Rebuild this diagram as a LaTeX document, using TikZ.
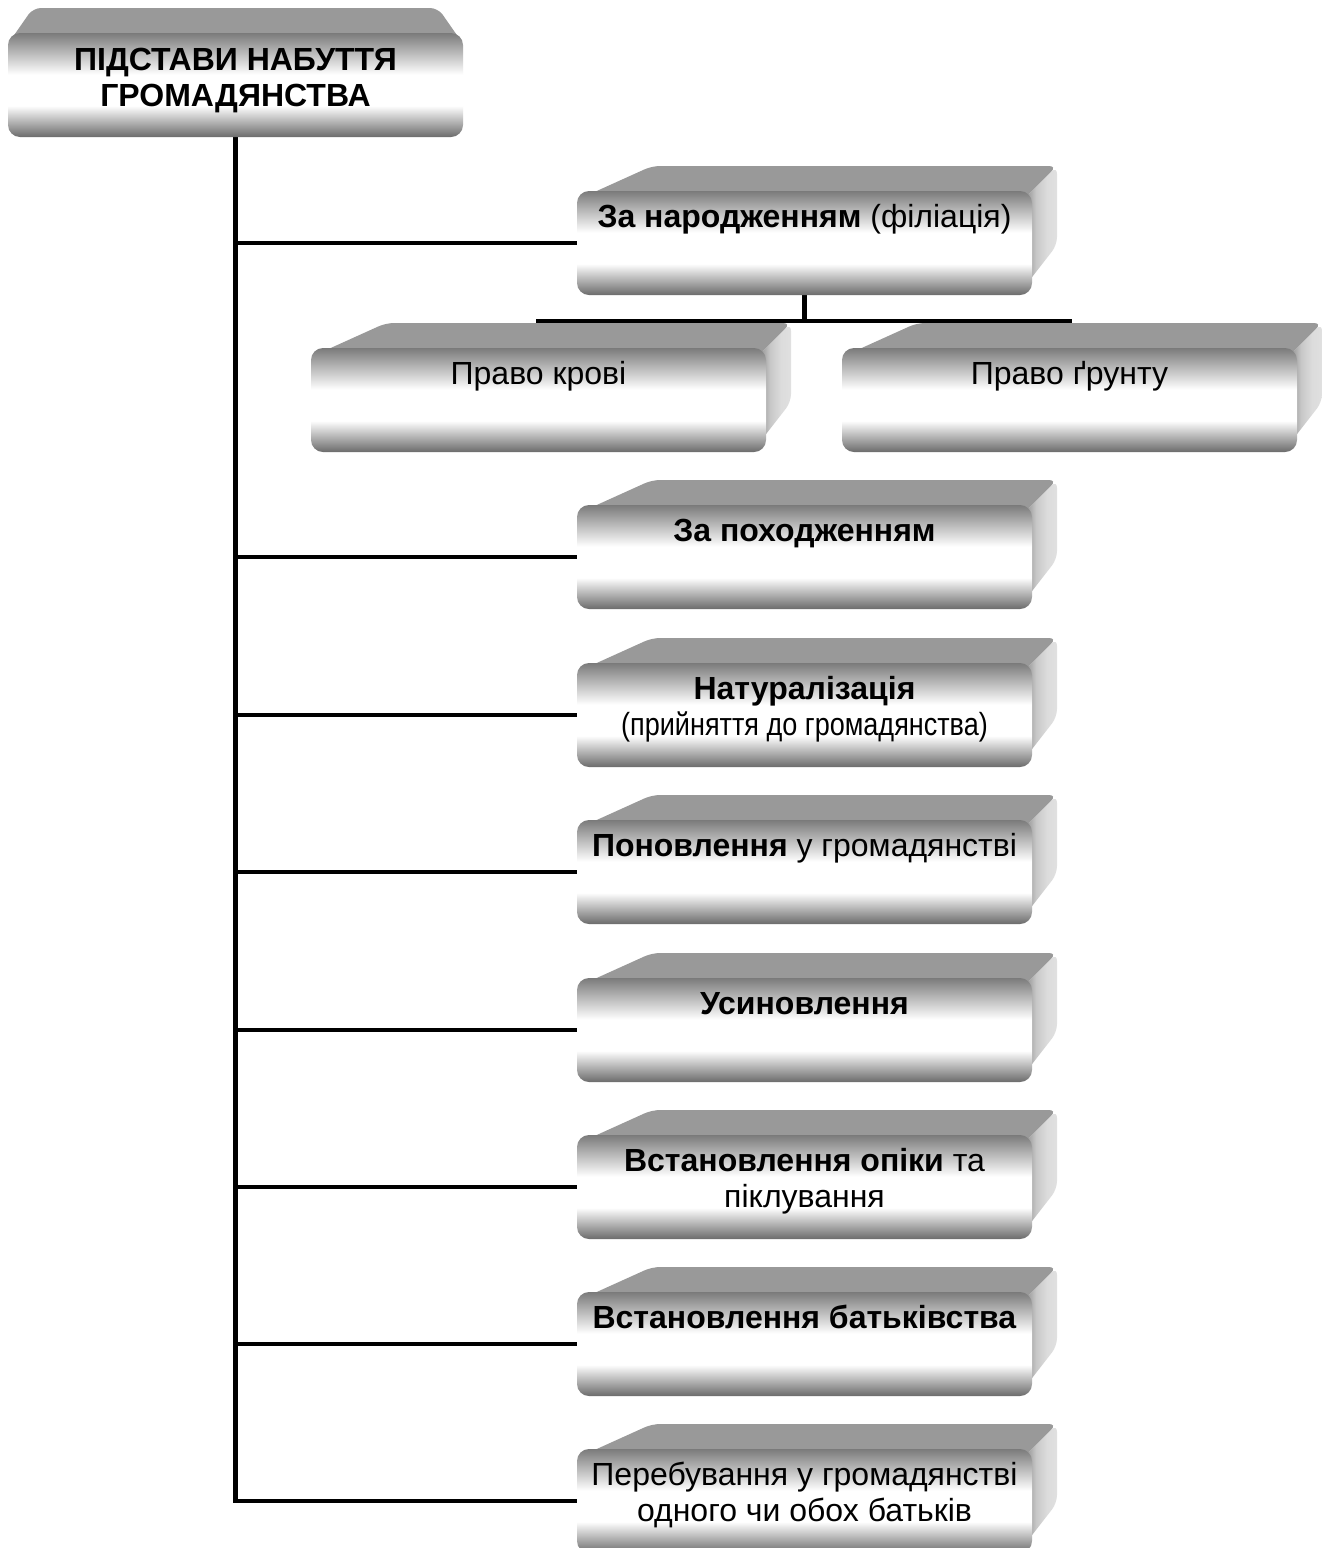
\documentclass[tikz,border=0pt]{standalone}
\usepackage{fontspec}
\setmainfont{Liberation Sans}
\usetikzlibrary{calc}
\pgfdeclarelayer{conn}\pgfdeclarelayer{faces}
\pgfsetlayers{conn,faces,main}
\pgfdeclareverticalshading{boxfront}{100bp}{color(0bp)=(black!58); color(25bp)=(black!58); color(40bp)=(white); color(55bp)=(white); color(75bp)=(black!52); color(100bp)=(black!52)}
\pgfdeclarehorizontalshading{rside}{100bp}{color(0bp)=(black!50); color(25bp)=(black!50); color(45bp)=(black!22); color(60bp)=(black!14); color(75bp)=(black!12); color(100bp)=(black!12)}
\tikzset{
  front/.style={rounded corners=12pt, shading=boxfront, inner sep=0pt, outer sep=0pt,
    font=\fontsize{32pt}{36pt}\selectfont},
  topface/.style={fill=black!40, rounded corners=8pt},
  sideface/.style={shading=rside, rounded corners=8pt},
  conn/.style={line width=4.5pt, black},
}
\newcommand\rbox[4]{%
  \node[front, anchor=north] (#1) at (#2,-#3) {\parbox[c][104pt][t]{455pt}{\centering\rule{0pt}{36pt}#4}};
  \begin{pgfonlayer}{faces}
    \path[topface] ($(#1.north west)+(2,-8)$) -- ($(#1.north west)+(75,25)$) -- ($(#1.north east)+(25,25)$) -- ($(#1.north east)+(-10,-10)$) -- cycle;
    \path[sideface] ($(#1.north east)+(-10,-10)$) -- ($(#1.north east)+(25,25)$) -- ($(#1.north east)+(25,-54)$) -- ($(#1.south east)+(-10,5)$) -- cycle;
  \end{pgfonlayer}}
\begin{document}
\begin{tikzpicture}[x=1pt,y=1pt]
\useasboundingbox (0,0) rectangle (1322,-1548);
\begin{pgfonlayer}{conn}
  \fill[white] (0,0) rectangle (1322,-1548);
\end{pgfonlayer}
% root
\node[front, anchor=north] (root) at (235.5,-33) {\parbox[c][104pt][t]{455pt}{\centering\rule{0pt}{37pt}\textbf{ПІДСТАВИ НАБУТТЯ\\ГРОМАДЯНСТВА}}};
\begin{pgfonlayer}{faces}
  \path[topface] ($(root.north west)+(2,-8)$) -- ($(root.north west)+(25,25)$) -- ($(root.north east)+(-25,25)$) -- ($(root.north east)+(-2,-8)$) -- cycle;
\end{pgfonlayer}
\rbox{n1}{804.5}{191}{\textbf{За народженням} (філіація)}
\rbox{kr}{538.5}{348}{Право крові}
\rbox{gr}{1069.5}{348}{Право ґрунту}
\rbox{n2}{804.5}{505}{\textbf{За походженням}}
\rbox{n3}{804.5}{663}{\textbf{Натуралізація}\\\scalebox{0.845}[1]{(прийняття до громадянства)}}
\rbox{n4}{804.5}{820}{\textbf{Поновлення} у громадянстві}
\rbox{n5}{804.5}{978}{\textbf{Усиновлення}}
\rbox{n6}{804.5}{1135}{\textbf{Встановлення опіки} та\\піклування}
\rbox{n7}{804.5}{1292}{\textbf{Встановлення батьківства}}
\rbox{n8}{804.5}{1449}{Перебування у громадянстві\\одного чи обох батьків}
\begin{pgfonlayer}{conn}
  \foreach \n in {n1,n2,n3,n4,n5,n6,n7,n8}
    \draw[conn] (root.south) |- (\n.west);
  \draw[conn] (n1.south) -- ++(0,-26) coordinate (j);
  \draw[conn] (j) -| (kr.north);
  \draw[conn] (j) -| (gr.north);
\end{pgfonlayer}
\end{tikzpicture}
\end{document}
